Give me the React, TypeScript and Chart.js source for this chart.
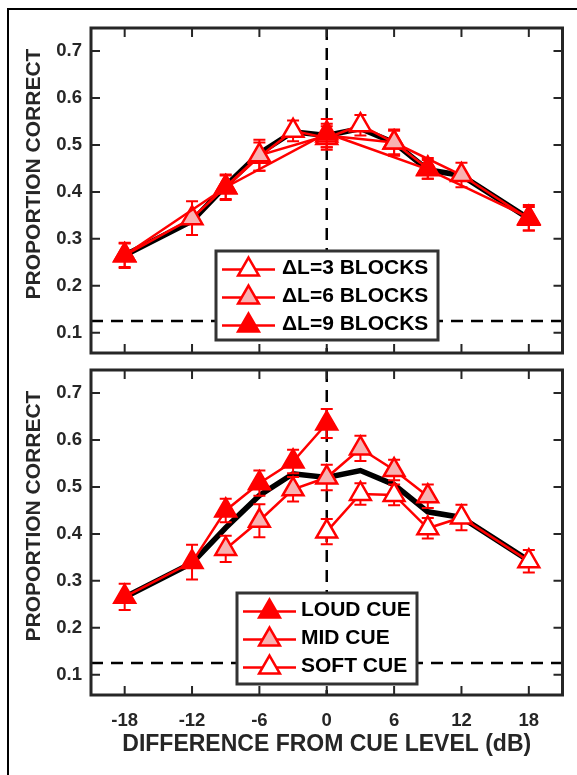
import React, { useEffect, useRef } from "react";
import { Chart, registerables } from "chart.js";

Chart.register(...registerables);

const FONT = "'Liberation Sans', Arial, Helvetica, sans-serif";
const RED = "#FF0000";
const PINK = "#F8B2B2";
const WHITE = "#FFFFFF";
const AXIS = "#262626";

// ---------- shared axes ----------
const xTicks = [-18, -12, -6, 0, 6, 12, 18];
const yTicks = [0.1, 0.2, 0.3, 0.4, 0.5, 0.6, 0.7];
const xMin = -21;
const xMax = 21;
const yMin = 0.057;
const yMax = 0.749;
const chanceLevel = 0.125;
const cueLevel = 0;
const xTitle = "DIFFERENCE FROM CUE LEVEL (dB)";
const yTitle = "PROPORTION CORRECT";

// ---------- overall average (black line, both panels) ----------
const overallX = [-18, -12, -9, -6, -3, 0, 3, 6, 9, 12, 18];
const overallY = [0.265, 0.338, 0.413, 0.482, 0.528, 0.52, 0.535, 0.505, 0.447, 0.435, 0.343];

// ---------- top panel: block step size ----------
const dl3Label = "\u0394L=3 BLOCKS";
const dl3X = [-9, -6, -3, 0, 3, 6, 9];
const dl3Y = [0.41, 0.475, 0.53, 0.515, 0.542, 0.505, 0.45];
const dl3Err = [0.025, 0.03, 0.022, 0.025, 0.022, 0.025, 0.022];

const dl6Label = "\u0394L=6 BLOCKS";
const dl6X = [-18, -12, -6, 0, 6, 12, 18];
const dl6Y = [0.265, 0.344, 0.478, 0.52, 0.505, 0.436, 0.343];
const dl6Err = [0.025, 0.036, 0.033, 0.025, 0.028, 0.026, 0.025];

const dl9Label = "\u0394L=9 BLOCKS";
const dl9X = [-18, -9, 0, 9, 18];
const dl9Y = [0.265, 0.41, 0.525, 0.448, 0.345];
const dl9Err = [0.027, 0.027, 0.03, 0.02, 0.027];

// ---------- bottom panel: cue level ----------
const loudLabel = "LOUD CUE";
const loudX = [-18, -12, -9, -6, -3, 0];
const loudY = [0.266, 0.34, 0.45, 0.508, 0.554, 0.635];
const loudErr = [0.028, 0.037, 0.025, 0.027, 0.025, 0.031];

const midLabel = "MID CUE";
const midX = [-9, -6, -3, 0, 3, 6, 9];
const midY = [0.368, 0.428, 0.495, 0.52, 0.582, 0.536, 0.48];
const midErr = [0.028, 0.035, 0.026, 0.027, 0.027, 0.022, 0.025];

const softLabel = "SOFT CUE";
const softX = [0, 3, 6, 9, 12, 18];
const softY = [0.405, 0.485, 0.483, 0.412, 0.435, 0.342];
const softErr = [0.027, 0.023, 0.022, 0.022, 0.027, 0.024];

function pts(xs: number[], ys: number[]) {
  return xs.map((x, i) => ({ x, y: ys[i] }));
}

function redSeries(label: string, xs: number[], ys: number[], err: number[], fill: string) {
  return {
    label,
    data: pts(xs, ys),
    errors: err,
    markerFill: fill,
    borderColor: RED,
    borderWidth: 2.5,
    pointStyle: "triangle",
    pointRadius: 12,
    pointBackgroundColor: fill,
    pointBorderColor: RED,
    pointBorderWidth: 2.5,
    tension: 0,
    fill: false,
  };
}

function blackSeries() {
  return {
    label: "ALL",
    data: pts(overallX, overallY),
    borderColor: "#000000",
    borderWidth: 5.5,
    pointRadius: 0,
    tension: 0,
    fill: false,
  };
}

type LegendBox = { dx: number; dy: number; w: number; h: number; textX: number };

function drawTriangle(ctx: CanvasRenderingContext2D, x: number, y: number, r: number, fill: string) {
  ctx.beginPath();
  let rad = 0;
  ctx.moveTo(x + Math.sin(rad) * r, y - Math.cos(rad) * r);
  rad += (2 * Math.PI) / 3;
  ctx.lineTo(x + Math.sin(rad) * r, y - Math.cos(rad) * r);
  rad += (2 * Math.PI) / 3;
  ctx.lineTo(x + Math.sin(rad) * r, y - Math.cos(rad) * r);
  ctx.closePath();
  ctx.fillStyle = fill;
  ctx.fill();
  ctx.strokeStyle = RED;
  ctx.lineWidth = 2.5;
  ctx.stroke();
}

function makePlugin(legendOrder: number[], box: LegendBox, showXTitle: boolean) {
  return {
    id: "panelDecor",
    beforeDatasetsDraw(chart: any) {
      const { ctx, chartArea: a, scales } = chart;
      ctx.save();
      ctx.strokeStyle = "#000";
      ctx.lineWidth = 2.5;
      ctx.setLineDash([12, 8]);
      const x0 = scales.x.getPixelForValue(cueLevel);
      ctx.beginPath();
      ctx.moveTo(x0, a.top);
      ctx.lineTo(x0, a.bottom);
      ctx.stroke();
      const yc = scales.y.getPixelForValue(chanceLevel);
      ctx.beginPath();
      ctx.moveTo(a.left, yc);
      ctx.lineTo(a.right, yc);
      ctx.stroke();
      ctx.restore();
    },
    beforeDatasetDraw(chart: any, args: any) {
      const ds = chart.data.datasets[args.index];
      if (!ds.errors) return;
      const { ctx, scales } = chart;
      ctx.save();
      ctx.strokeStyle = RED;
      ctx.lineWidth = 2;
      ds.data.forEach((p: any, i: number) => {
        const e = ds.errors[i];
        const px = scales.x.getPixelForValue(p.x);
        const y1 = scales.y.getPixelForValue(p.y + e);
        const y2 = scales.y.getPixelForValue(p.y - e);
        ctx.beginPath();
        ctx.moveTo(px, y1);
        ctx.lineTo(px, y2);
        ctx.moveTo(px - 6, y1);
        ctx.lineTo(px + 6, y1);
        ctx.moveTo(px - 6, y2);
        ctx.lineTo(px + 6, y2);
        ctx.stroke();
      });
      ctx.restore();
    },
    afterDraw(chart: any) {
      const { ctx, chartArea: a, scales } = chart;
      ctx.save();
      // legend
      const bx = a.left + box.dx;
      const by = a.top + box.dy;
      ctx.fillStyle = WHITE;
      ctx.fillRect(bx, by, box.w, box.h);
      ctx.strokeStyle = "#333333";
      ctx.lineWidth = 3;
      ctx.strokeRect(bx, by, box.w, box.h);
      const rows = [18.5, 46.5, 74.5];
      legendOrder.forEach((di, k) => {
        const ds = chart.data.datasets[di];
        const ry = by + rows[k];
        ctx.strokeStyle = RED;
        ctx.lineWidth = 2.5;
        ctx.beginPath();
        ctx.moveTo(bx + 6, ry);
        ctx.lineTo(bx + 59, ry);
        ctx.stroke();
        drawTriangle(ctx, bx + 32.5, ry, 12, ds.markerFill);
        ctx.fillStyle = "#000";
        ctx.font = `bold 21px ${FONT}`;
        ctx.textAlign = "left";
        ctx.textBaseline = "middle";
        ctx.fillText(ds.label, bx + box.textX, ry - 1);
      });
      // axes box and inward ticks
      ctx.strokeStyle = AXIS;
      ctx.lineWidth = 2;
      ctx.beginPath();
      xTicks.forEach((v) => {
        const px = scales.x.getPixelForValue(v);
        ctx.moveTo(px, a.bottom);
        ctx.lineTo(px, a.bottom - 9);
        ctx.moveTo(px, a.top);
        ctx.lineTo(px, a.top + 9);
      });
      yTicks.forEach((v) => {
        const py = scales.y.getPixelForValue(v);
        ctx.moveTo(a.left, py);
        ctx.lineTo(a.left + 9, py);
        ctx.moveTo(a.right, py);
        ctx.lineTo(a.right - 9, py);
      });
      ctx.stroke();
      ctx.lineWidth = 3;
      ctx.strokeRect(a.left, a.top, a.right - a.left, a.bottom - a.top);
      // y title
      ctx.fillStyle = AXIS;
      ctx.font = `bold 21px ${FONT}`;
      ctx.textAlign = "center";
      ctx.textBaseline = "middle";
      ctx.translate(34, 174);
      ctx.rotate(-Math.PI / 2);
      ctx.fillText(yTitle, 0, 0);
      ctx.setTransform(1, 0, 0, 1, 0, 0);
      if (showXTitle) {
        ctx.font = `bold 23px ${FONT}`;
        ctx.fillStyle = AXIS;
        ctx.textAlign = "center";
        ctx.textBaseline = "middle";
        ctx.fillText(xTitle, (a.left + a.right) / 2, a.bottom + 50);
      }
      ctx.restore();
    },
  };
}

function buildConfig(datasets: any[], legendOrder: number[], box: LegendBox, bottom: boolean) {
  return {
    type: "line",
    data: { datasets },
    options: {
      responsive: false,
      animation: false,
      events: [],
      layout: { padding: { left: 0, top: 28, right: 13, bottom: bottom ? 0 : 30 } },
      plugins: { legend: { display: false }, tooltip: { enabled: false } },
      scales: {
        x: {
          type: "linear",
          display: bottom,
          min: xMin,
          max: xMax,
          grid: { display: false, drawTicks: false },
          border: { display: false },
          afterBuildTicks: (s: any) => {
            s.ticks = xTicks.map((v) => ({ value: v }));
          },
          afterFit: (s: any) => {
            s.height = bottom ? 80 : 0;
          },
          ticks: {
            color: AXIS,
            padding: 15,
            maxRotation: 0,
            autoSkip: false,
            font: { family: FONT, size: 18.5, weight: "bold" },
            callback: (v: any) => String(v),
          },
        },
        y: {
          type: "linear",
          min: yMin,
          max: yMax,
          grid: { display: false, drawTicks: false },
          border: { display: false },
          afterBuildTicks: (s: any) => {
            s.ticks = yTicks.map((v) => ({ value: v }));
          },
          afterFit: (s: any) => {
            s.width = 91;
          },
          ticks: {
            color: AXIS,
            padding: 9,
            autoSkip: false,
            font: { family: FONT, size: 18.5, weight: "bold" },
            callback: (v: any) => Number(v).toFixed(1),
          },
        },
      },
    },
    plugins: [makePlugin(legendOrder, box, bottom)],
  };
}

function Panel(props: { top: number; height: number; bottom: boolean }) {
  const ref = useRef<HTMLCanvasElement | null>(null);
  useEffect(() => {
    if (!ref.current) return;
    let datasets: any[];
    let order: number[];
    let box: LegendBox;
    if (!props.bottom) {
      datasets = [
        redSeries(dl9Label, dl9X, dl9Y, dl9Err, RED),
        redSeries(dl6Label, dl6X, dl6Y, dl6Err, PINK),
        redSeries(dl3Label, dl3X, dl3Y, dl3Err, WHITE),
        blackSeries(),
      ];
      order = [2, 1, 0];
      box = { dx: 125, dy: 223, w: 222, h: 89, textX: 66 };
    } else {
      datasets = [
        redSeries(loudLabel, loudX, loudY, loudErr, RED),
        redSeries(midLabel, midX, midY, midErr, PINK),
        redSeries(softLabel, softX, softY, softErr, WHITE),
        blackSeries(),
      ];
      order = [0, 1, 2];
      box = { dx: 146, dy: 223, w: 180, h: 91, textX: 64 };
    }
    const chart = new Chart(ref.current, buildConfig(datasets, order, box, props.bottom) as any);
    return () => chart.destroy();
  }, [props.bottom]);
  return (
    <canvas
      ref={ref}
      width={577}
      height={props.height}
      style={{ position: "absolute", left: 0, top: props.top, width: 577, height: props.height }}
    />
  );
}

export default function App() {
  return (
    <div
      style={{
        position: "absolute",
        left: 0,
        top: 0,
        width: 577,
        height: 775,
        overflow: "hidden",
        background: "#ffffff",
      }}
    >
      <div
        style={{
          position: "absolute",
          left: 7,
          top: 8,
          width: 600,
          height: 800,
          borderLeft: "2px solid #000",
          borderTop: "2px solid #000",
        }}
      />
      <Panel top={0} height={383} bottom={false} />
      <Panel top={342} height={433} bottom={true} />
    </div>
  );
}
